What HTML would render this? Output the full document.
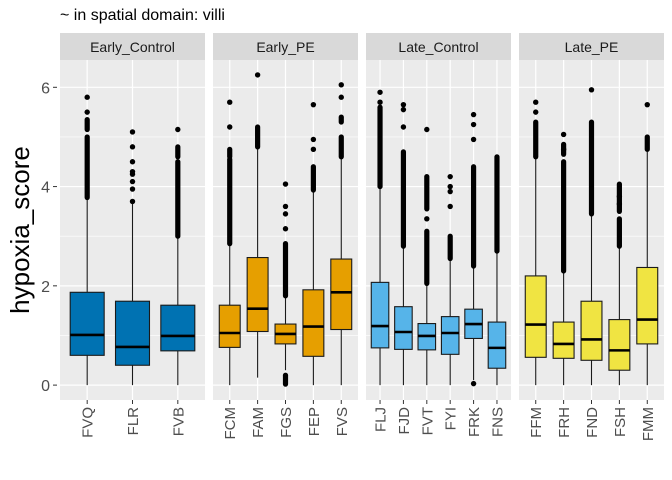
<!DOCTYPE html>
<html><head><meta charset="utf-8"><style>
body{margin:0;background:#fff;}
svg{display:block;font-family:"Liberation Sans",sans-serif;}
</style></head><body>
<svg id="chart" width="672" height="480"></svg>
<script>
const panels = ["Early_Control","Early_PE","Late_Control","Late_PE"];
const panelColors = ["#0072B2","#E69F00","#56B4E9","#F0E442"];
const samples = [["FVQ","FLR","FVB"],["FCM","FAM","FGS","FEP","FVS"],["FLJ","FJD","FVT","FYI","FRK","FNS"],["FFM","FRH","FND","FSH","FMM"]];
// [lowWhisker, q1, median, q3, highWhisker]
const boxStats = [
 [[0,0.60,1.01,1.87,3.73],[0,0.40,0.77,1.69,3.65],[0,0.69,0.99,1.61,3.0]],
 [[0,0.76,1.05,1.61,2.85],[0.15,1.08,1.54,2.57,4.75],[0.3,0.83,1.03,1.23,1.8],[0,0.58,1.18,1.92,3.93],[0,1.12,1.87,2.54,4.6]],
 [[0,0.75,1.19,2.07,4.0],[0,0.72,1.07,1.58,2.79],[0,0.71,0.99,1.24,2.02],[0,0.62,1.05,1.38,2.5],[0.1,0.94,1.23,1.53,2.39],[0,0.34,0.75,1.27,2.66]],
 [[0,0.56,1.22,2.20,4.59],[0,0.54,0.83,1.27,2.28],[0,0.50,0.92,1.69,3.43],[0,0.30,0.70,1.32,2.8],[0,0.83,1.32,2.37,4.7]]
];
// dense outlier runs [from,to]
const denseOutliers = [
 [[[3.78,5.0],[5.15,5.35]],[],[[3.0,4.5],[4.6,4.8]]],
 [[[2.85,4.55],[4.6,4.75]],[[4.8,5.2]],[[1.8,2.85],[0.02,0.2]],[[3.93,4.4]],[[4.6,5.0],[5.3,5.4]]],
 [[[4.0,5.6]],[[2.8,4.7]],[[2.05,3.1],[3.55,4.2]],[[2.55,3.0]],[[2.4,4.4]],[[2.7,4.6]]],
 [[[4.6,5.3]],[[2.3,4.5],[4.65,4.85]],[[3.45,5.3]],[[2.8,3.35],[3.5,4.05]],[[4.75,5.0]]]
];
// isolated outliers
const sparseOutliers = [
 [[5.5,5.8],[3.7,3.95,4.1,4.25,4.3,4.5,4.8,5.1],[5.15]],
 [[5.2,5.7],[6.25],[3.15,3.45,3.6,4.05],[4.75,4.95,5.65],[5.8,6.05]],
 [[5.7,5.9],[5.2,5.55,5.65],[3.35,5.15],[3.6,3.9,4.0,4.2],[0.03,4.95,5.25,5.45],[]],
 [[5.5,5.7],[4.75,5.05],[5.95],[3.65,3.8],[5.65]]
];
const yTicks = [0,2,4,6];
const yMinor = [1,3,5];

const NS="http://www.w3.org/2000/svg";
const svgRoot=document.getElementById('chart');
function el(t,a,p){const e=document.createElementNS(NS,t);for(const k in a)e.setAttribute(k,a[k]);(p||svgRoot).appendChild(e);return e;}
const plotTop=60,plotBot=400,yLo=-0.3,yHi=6.55;
const yS=v=>plotBot-(v-yLo)/(yHi-yLo)*(plotBot-plotTop);
const panelX=[60,213,366,519],pw=145;

const title=el('text',{x:60,y:20,'font-size':16,fill:'#000'});


title.textContent='~ in spatial domain: villi';

const yt=el('text',{x:0,y:0,'font-size':26,fill:'#000','text-anchor':'middle',transform:`translate(29,${(plotTop+plotBot)/2}) rotate(-90)`});


yt.textContent='hypoxia_score';

yTicks.forEach(t=>{
 const l=el('text',{x:50,y:yS(t)+6,'font-size':16,fill:'#4D4D4D','text-anchor':'end'});
 
 
 l.textContent=t;
 el('line',{x1:53,x2:57,y1:yS(t),y2:yS(t),stroke:'#333','stroke-width':1});
});

panels.forEach((pn,pi)=>{
 const x0=panelX[pi];
 const g=el('g',{});
 
 
 el('rect',{x:x0,y:plotTop,width:pw,height:plotBot-plotTop,fill:'#EBEBEB'},g);
 const st=el('rect',{x:x0,y:33,width:pw,height:27,fill:'#D9D9D9'},g);
 
 
 const stt=el('text',{x:x0+pw/2,y:52,'font-size':14,fill:'#1A1A1A','text-anchor':'middle'},g);
 
 
 stt.textContent=pn;
 yMinor.forEach(t=>el('line',{x1:x0,x2:x0+pw,y1:yS(t),y2:yS(t),stroke:'#fff','stroke-width':0.6},g));
 yTicks.forEach(t=>el('line',{x1:x0,x2:x0+pw,y1:yS(t),y2:yS(t),stroke:'#fff','stroke-width':1.2},g));
 const n=samples[pi].length, u=pw/(n-1+1.2);
 const cx=i=>x0+(0.6+i)*u, bw=0.75*u;
 samples[pi].forEach((s,i)=>el('line',{x1:cx(i),x2:cx(i),y1:plotTop,y2:plotBot,stroke:'#fff','stroke-width':1.2},g));
 samples[pi].forEach((s,i)=>{
  const b=boxStats[pi][i], c=cx(i);
  const bg=el('g',{},g);
  
  
  el('line',{x1:c,x2:c,y1:yS(b[0]),y2:yS(b[4]),stroke:'#1a1a1a','stroke-width':1.1},bg);
  el('rect',{x:c-bw/2,y:yS(b[3]),width:bw,height:yS(b[1])-yS(b[3]),fill:panelColors[pi],stroke:'#1a1a1a','stroke-width':1.1},bg);
  el('line',{x1:c-bw/2,x2:c+bw/2,y1:yS(b[2]),y2:yS(b[2]),stroke:'#000','stroke-width':2.6},bg);
  denseOutliers[pi][i].forEach(r=>{
   el('rect',{x:c-2.6,y:yS(r[1])-2.6,width:5.2,height:yS(r[0])-yS(r[1])+5.2,rx:2.6,fill:'#000'},bg);
  });
  sparseOutliers[pi][i].forEach(v=>{
   const d=el('circle',{cx:c,cy:yS(v),r:2.7,fill:'#000'},bg);
   
   
  });
  el('line',{x1:c,x2:c,y1:plotBot,y2:plotBot+4,stroke:'#333','stroke-width':1});
  const xl=el('text',{x:0,y:0,'font-size':15,fill:'#4D4D4D','text-anchor':'end',transform:`translate(${c+5.5},${plotBot+7}) rotate(-90)`});
  
  
  xl.textContent=s;
 });
});
</script>
</body></html>
